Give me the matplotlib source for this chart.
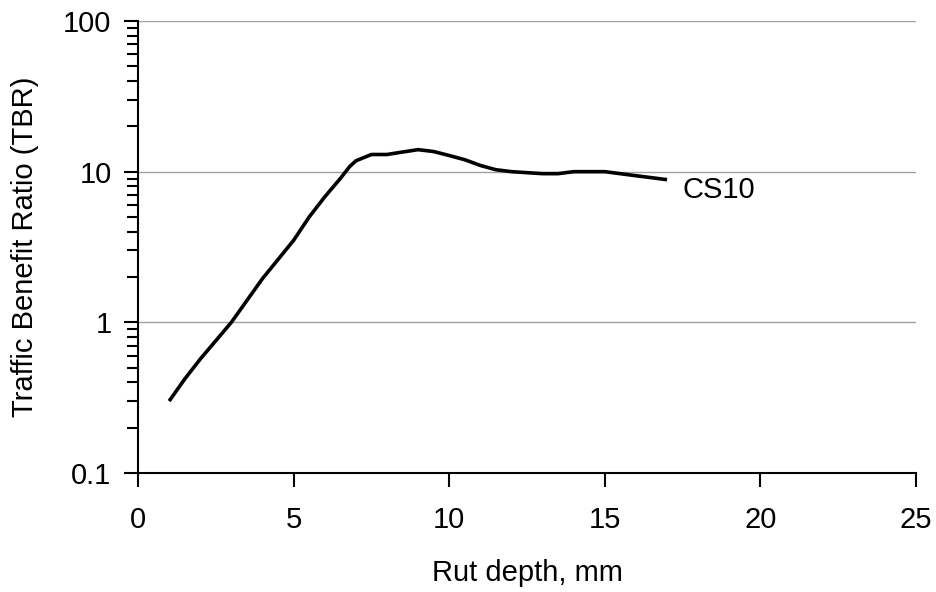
import matplotlib
matplotlib.use("Agg")
import matplotlib.pyplot as plt
from matplotlib.ticker import LogLocator, FixedLocator, NullFormatter, FixedFormatter

plt.rcParams['font.family'] = ['Liberation Sans', 'DejaVu Sans']

rut_depth = [1, 1.5, 2, 3, 4, 5, 5.5, 6, 6.5, 6.8, 7, 7.5, 8, 8.5, 9, 9.5, 10, 10.5,
             11, 11.5, 12, 13, 13.5, 14, 15, 16, 17]
tbr = [0.3, 0.42, 0.57, 1.0, 1.95, 3.5, 5.0, 6.8, 9.0, 10.8, 11.8, 13.0, 13.0, 13.5,
       14.0, 13.6, 12.8, 12.0, 11.0, 10.3, 10.0, 9.7, 9.7, 10.0, 10.0, 9.4, 8.85]
series_label = "CS10"
x_ticks = [0, 5, 10, 15, 20, 25]
y_ticks = [0.1, 1, 10, 100]
y_tick_labels = ["0.1", "1", "10", "100"]

FS = 21

fig = plt.figure(figsize=(9.36, 5.92), dpi=100)
ax = fig.add_axes([138/936, 1-473/592, (916-138)/936, (473-21)/592])

ax.plot(rut_depth, tbr, color='black', lw=2.6, solid_joinstyle='round', solid_capstyle='butt', zorder=3)
ax.text(17.5, 7.5, series_label, fontsize=FS, va='center', ha='left')

ax.set_yscale('log')
ax.set_xlim(0, 25)
ax.set_ylim(0.1, 100)
ax.xaxis.set_major_locator(FixedLocator(x_ticks))
ax.yaxis.set_major_locator(FixedLocator(y_ticks))
ax.yaxis.set_major_formatter(FixedFormatter(y_tick_labels))
ax.yaxis.set_minor_locator(LogLocator(base=10, subs=range(2, 10)))
ax.yaxis.set_minor_formatter(NullFormatter())

ax.grid(axis='y', which='major', color='#a0a0a0', lw=1.0, zorder=0)
for s in ['top', 'right']:
    ax.spines[s].set_visible(False)
for s in ['left', 'bottom']:
    ax.spines[s].set_linewidth(1.5)
    ax.spines[s].set_color('black')

ax.tick_params(axis='both', which='major', direction='out', length=10, width=1.5,
               labelsize=FS, colors='black')
ax.tick_params(axis='x', pad=14)
ax.tick_params(axis='y', pad=9)
ax.tick_params(axis='y', which='minor', direction='out', length=8, width=1.5)

ax.set_xlabel("Rut depth, mm", fontsize=FS, labelpad=18)
ax.set_ylabel("Traffic Benefit Ratio (TBR)", fontsize=FS, labelpad=17.5)

fig.savefig("out.png", dpi=100)
